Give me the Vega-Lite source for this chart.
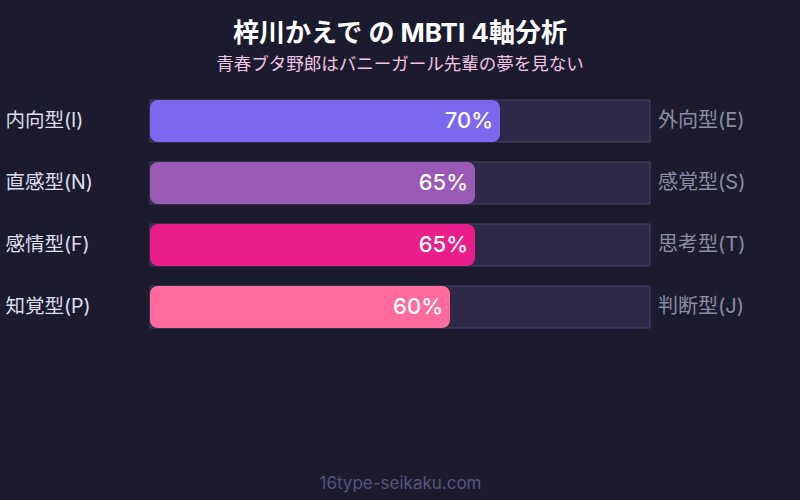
{
  "$schema": "https://vega.github.io/schema/vega-lite/v6.json",
  "autosize": {"type": "none"},
  "width": 500,
  "height": 228,
  "padding": {"left": 150, "right": 150, "top": 100, "bottom": 172},
  "background": "#1b1b2d",
  "config": {"view": {"stroke": null}},
  "title": {
    "text": "梓川かえで の MBTI 4軸分析",
    "subtitle": "青春ブタ野郎はバニーガール先輩の夢を見ない",
    "anchor": "middle",
    "frame": "group",
    "font": "Inter, Noto Sans CJK JP",
    "fontSize": 26,
    "fontWeight": "bold",
    "color": "#ffffff",
    "subtitleFont": "Inter, Noto Sans CJK JP",
    "subtitleFontSize": 17.5,
    "subtitleColor": "#f2c4e4",
    "subtitlePadding": 9,
    "offset": 26
  },
  "data": {
    "values": [
      {"left": "内向型(I)", "right": "外向型(E)", "value": 0.70},
      {"left": "直感型(N)", "right": "感覚型(S)", "value": 0.65},
      {"left": "感情型(F)", "right": "思考型(T)", "value": 0.65},
      {"left": "知覚型(P)", "right": "判断型(J)", "value": 0.60}
    ]
  },
  "encoding": {
    "y": {
      "field": "left",
      "type": "nominal",
      "sort": null,
      "scale": {"paddingInner": 0.3226, "paddingOuter": 0},
      "axis": {
        "title": null,
        "domain": false,
        "ticks": false,
        "labelAlign": "left",
        "labelPadding": 145,
        "labelFont": "Inter, Noto Sans CJK JP",
        "labelFontSize": 19.5,
        "labelColor": "#dedeee"
      }
    }
  },
  "layer": [
    {
      "mark": {"type": "bar", "fill": "#2c2a48", "stroke": "#46456a", "strokeWidth": 1},
      "encoding": {
        "x": {
          "datum": 0,
          "type": "quantitative",
          "scale": {"domain": [0, 1]},
          "axis": {
            "title": "16type-seikaku.com",
            "titleFont": "Inter, Noto Sans CJK JP",
            "titleFontSize": 17,
            "titleFontWeight": "normal",
            "titleColor": "#55557a",
            "titlePadding": 147,
            "domain": false,
            "ticks": false,
            "labels": false,
            "grid": false
          }
        },
        "x2": {"datum": 1}
      }
    },
    {
      "mark": {"type": "bar", "cornerRadius": 8},
      "encoding": {
        "x": {"field": "value", "type": "quantitative"},
        "x2": {"datum": 0},
        "color": {
          "field": "left",
          "type": "nominal",
          "legend": null,
          "scale": {
            "domain": ["内向型(I)", "直感型(N)", "感情型(F)", "知覚型(P)"],
            "range": ["#7b68ee", "#9b59b6", "#e91e8c", "#ff6b9d"]
          }
        }
      }
    },
    {
      "mark": {"type": "text", "align": "right", "baseline": "middle", "dx": -7, "font": "Inter, Noto Sans CJK JP", "fontSize": 22, "fontWeight": 500, "color": "#ffffff"},
      "encoding": {
        "x": {"field": "value", "type": "quantitative"},
        "text": {"field": "value", "type": "quantitative", "format": ".0%"}
      }
    },
    {
      "mark": {"type": "text", "align": "left", "baseline": "middle", "dx": 8, "font": "Inter, Noto Sans CJK JP", "fontSize": 20, "color": "#8c8ca4"},
      "encoding": {
        "x": {"datum": 1, "type": "quantitative"},
        "text": {"field": "right", "type": "nominal"}
      }
    }
  ]
}
